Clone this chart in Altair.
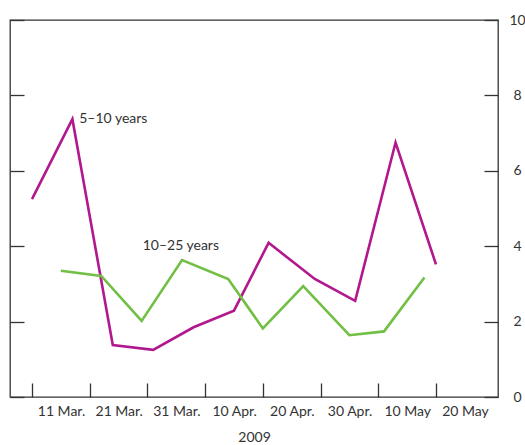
import altair as alt
import pandas as pd

# Weekly gilt purchases by residual maturity, 2009
short_dates = ["2009-03-11", "2009-03-18", "2009-03-25", "2009-04-01", "2009-04-08",
               "2009-04-15", "2009-04-21", "2009-04-29", "2009-05-06", "2009-05-13",
               "2009-05-20"]
short_values = [5.25, 7.37, 1.38, 1.25, 1.85, 2.29, 4.09, 3.13, 2.55, 6.75, 3.52]

long_dates = ["2009-03-16", "2009-03-23", "2009-03-30", "2009-04-06", "2009-04-14",
              "2009-04-20", "2009-04-27", "2009-05-05", "2009-05-11", "2009-05-18"]
long_values = [3.35, 3.21, 2.02, 3.63, 3.13, 1.82, 2.94, 1.64, 1.74, 3.17]

series_names = ["5–10 years", "10–25 years"]
series_colors = ["#b2188e", "#71bf44"]

# In-chart series labels
label_texts = ["5–10 years", "10–25 years"]
label_dates = ["2009-03-19", "2009-03-30"]
label_values = [7.37, 4.0]

# x-axis ticks and their labels
tick_dates = ["2009-03-11", "2009-03-21", "2009-03-31", "2009-04-10",
              "2009-04-20", "2009-04-30", "2009-05-10", "2009-05-20"]
tick_labels = ["11 Mar.", "21 Mar.", "31 Mar.", "10 Apr.",
               "20 Apr.", "30 Apr.", "10 May", "20 May"]
y_ticks = [0, 2, 4, 6, 8, 10]


def ms(s):
    return int(pd.Timestamp(s, tz="UTC").value // 10**6)


tick_ms = [ms(d) for d in tick_dates]
x_domain = [ms("2009-03-07 04:30"), ms("2009-05-30 18:00")]

lines_df = pd.concat([
    pd.DataFrame({"date": short_dates, "value": short_values, "series": series_names[0]}),
    pd.DataFrame({"date": long_dates, "value": long_values, "series": series_names[1]}),
])
labels_df = pd.DataFrame({"date": label_dates, "value": label_values, "text": label_texts})

ink = "#333333"
font = "Lato"

label_expr = "[{}][indexof([{}], toNumber(datum.value))]".format(
    ", ".join("'" + t + "'" for t in tick_labels),
    ", ".join(str(t) for t in tick_ms),
)

x_scale = alt.Scale(type="utc", domain=x_domain)
y_scale = alt.Scale(domain=[0, 10], nice=False)

x_enc = alt.X(
    "date:T",
    scale=x_scale,
    axis=alt.Axis(
        values=tick_ms,
        labelExpr=label_expr,
        labelOffset=29,
        labelFlush=False,
        labelOverlap=False,
        offset=-14,
        tickSize=14,
        tickWidth=1.3,
        tickColor=ink,
        domain=False,
        grid=False,
        labelPadding=7,
        title="2009",
        titlePadding=12,
    ),
)

lines = alt.Chart(lines_df).mark_line(strokeWidth=2.6, strokeJoin="miter").encode(
    x=x_enc,
    y=alt.Y(
        "value:Q",
        scale=y_scale,
        axis=alt.Axis(
            orient="right",
            values=y_ticks,
            offset=-14,
            tickSize=14,
            tickWidth=1.3,
            tickColor=ink,
            domain=False,
            grid=False,
            labelAlign="center",
            labelPadding=19,
            title=None,
        ),
    ),
    color=alt.Color("series:N", scale=alt.Scale(domain=series_names, range=series_colors), legend=None),
    detail="series:N",
)

labels = alt.Chart(labels_df).mark_text(
    align="left", baseline="middle", dx=1, fontSize=14, font=font, color=ink
).encode(
    x=alt.X("date:T", scale=x_scale),
    y=alt.Y(
        "value:Q",
        scale=y_scale,
        axis=alt.Axis(
            orient="left",
            values=y_ticks,
            offset=-14,
            tickSize=14,
            tickWidth=1.3,
            tickColor=ink,
            domain=False,
            grid=False,
            labels=False,
            title=None,
        ),
    ),
    text="text:N",
)

chart = (
    alt.layer(lines, labels)
    .resolve_axis(y="independent")
    .properties(
        width=488,
        height=377,
        autosize="none",
        padding={"left": 10, "top": 20, "right": 27, "bottom": 48},
        background="white",
    )
    .configure_view(stroke=ink, strokeWidth=1.3)
    .configure_axis(
        labelFont=font,
        labelFontSize=14,
        labelColor=ink,
        titleFont=font,
        titleFontSize=14,
        titleFontWeight="normal",
        titleColor=ink,
    )
)

chart.save("out.html", embed_options={"renderer": "svg", "actions": False})
